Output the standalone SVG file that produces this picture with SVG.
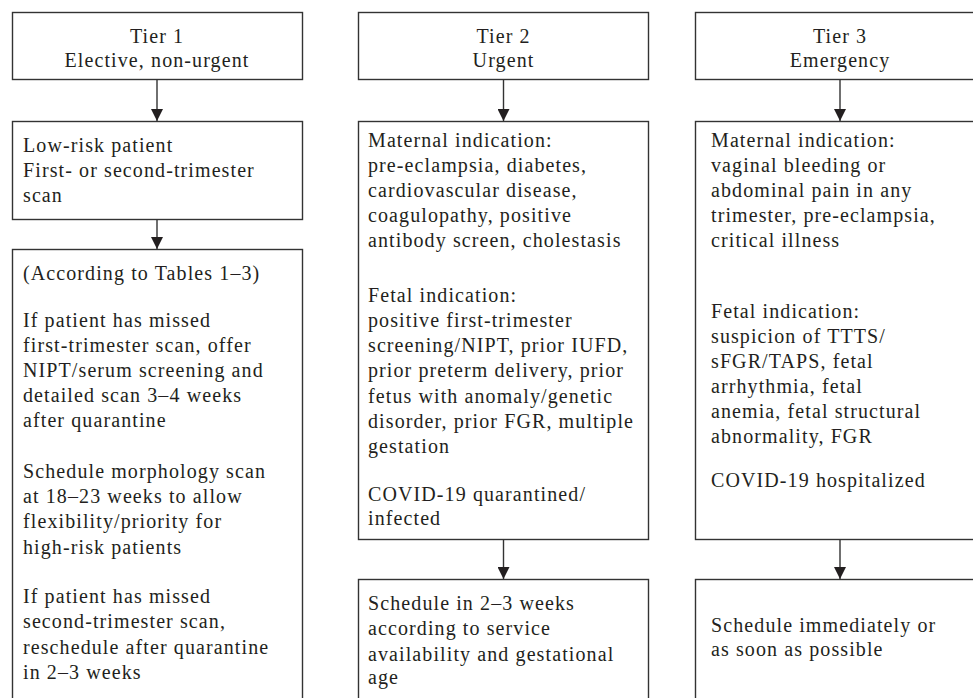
<svg xmlns="http://www.w3.org/2000/svg" width="973" height="698" viewBox="0 0 973 698">
<style>
.box{fill:#fff;stroke:#333;stroke-width:1.4}
.t{font-family:"Liberation Serif","Times New Roman",serif;font-size:20px;letter-spacing:1.1px;fill:#231f20}
.c{text-anchor:middle}
.conn{stroke:#333;stroke-width:1.4;fill:none;marker-end:url(#ah)}
</style>
<defs>
<marker id="ah" markerUnits="userSpaceOnUse" markerWidth="12" markerHeight="12" refX="12" refY="6" orient="auto">
<path d="M0,0 L12,6 L0,12 z" fill="#231f20"/>
</marker>
</defs>
<rect width="973" height="698" fill="#fff"/>

<g id="connectors">
<line class="conn" x1="157" y1="80" x2="157" y2="121"/>
<line class="conn" x1="157" y1="220" x2="157" y2="249"/>
<line class="conn" x1="503.5" y1="80" x2="503.5" y2="121"/>
<line class="conn" x1="503.5" y1="540" x2="503.5" y2="579"/>
<line class="conn" x1="840" y1="80" x2="840" y2="121"/>
<line class="conn" x1="840" y1="540" x2="840" y2="579"/>
</g>

<g id="tier1">
<rect class="box" x="12.5" y="12.5" width="290" height="67"/>
<text class="t c" x="157" y="43">Tier 1</text>
<text class="t c" x="157" y="67">Elective, non-urgent</text>
</g>

<g id="tier1-patient">
<rect class="box" x="12.5" y="121.5" width="290" height="98"/>
<text class="t" x="23" y="152">Low-risk patient</text>
<text class="t" x="23" y="177">First- or second-trimester</text>
<text class="t" x="23" y="202">scan</text>
</g>

<g id="tier1-plan">
<rect class="box" x="12.5" y="249.5" width="290" height="470"/>
<text class="t" x="23" y="280">(According to Tables 1–3)</text>
<text class="t" x="23" y="327">If patient has missed</text>
<text class="t" x="23" y="352">first-trimester scan, offer</text>
<text class="t" x="23" y="377">NIPT/serum screening and</text>
<text class="t" x="23" y="402">detailed scan 3–4 weeks</text>
<text class="t" x="23" y="427">after quarantine</text>
<text class="t" x="23" y="478">Schedule morphology scan</text>
<text class="t" x="23" y="503">at 18–23 weeks to allow</text>
<text class="t" x="23" y="528">flexibility/priority for</text>
<text class="t" x="23" y="554">high-risk patients</text>
<text class="t" x="23" y="603">If patient has missed</text>
<text class="t" x="23" y="628">second-trimester scan,</text>
<text class="t" x="23" y="654">reschedule after quarantine</text>
<text class="t" x="23" y="679">in 2–3 weeks</text>
</g>

<g id="tier2">
<rect class="box" x="358.5" y="12.5" width="290" height="67"/>
<text class="t c" x="503.5" y="43">Tier 2</text>
<text class="t c" x="503.5" y="67">Urgent</text>
</g>

<g id="tier2-indications">
<rect class="box" x="358.5" y="121.5" width="290" height="418"/>
<text class="t" x="368" y="147">Maternal indication:</text>
<text class="t" x="368" y="172">pre-eclampsia, diabetes,</text>
<text class="t" x="368" y="197">cardiovascular disease,</text>
<text class="t" x="368" y="222">coagulopathy, positive</text>
<text class="t" x="368" y="247">antibody screen, cholestasis</text>
<text class="t" x="368" y="302">Fetal indication:</text>
<text class="t" x="368" y="327">positive first-trimester</text>
<text class="t" x="368" y="352">screening/NIPT, prior IUFD,</text>
<text class="t" x="368" y="377">prior preterm delivery, prior</text>
<text class="t" x="368" y="403">fetus with anomaly/genetic</text>
<text class="t" x="368" y="428">disorder, prior FGR, multiple</text>
<text class="t" x="368" y="453">gestation</text>
<text class="t" x="368" y="501">COVID-19 quarantined/</text>
<text class="t" x="368" y="525">infected</text>
</g>

<g id="tier2-schedule">
<rect class="box" x="358.5" y="579.5" width="290" height="140"/>
<text class="t" x="368" y="610">Schedule in 2–3 weeks</text>
<text class="t" x="368" y="635">according to service</text>
<text class="t" x="368" y="661">availability and gestational</text>
<text class="t" x="368" y="684">age</text>
</g>

<g id="tier3">
<rect class="box" x="695.5" y="12.5" width="290" height="67"/>
<text class="t c" x="840" y="43">Tier 3</text>
<text class="t c" x="840" y="67">Emergency</text>
</g>

<g id="tier3-indications">
<rect class="box" x="695.5" y="121.5" width="290" height="418"/>
<text class="t" x="711" y="147">Maternal indication:</text>
<text class="t" x="711" y="172">vaginal bleeding or</text>
<text class="t" x="711" y="197">abdominal pain in any</text>
<text class="t" x="711" y="222">trimester, pre-eclampsia,</text>
<text class="t" x="711" y="247">critical illness</text>
<text class="t" x="711" y="318">Fetal indication:</text>
<text class="t" x="711" y="343">suspicion of TTTS/</text>
<text class="t" x="711" y="368">sFGR/TAPS, fetal</text>
<text class="t" x="711" y="393">arrhythmia, fetal</text>
<text class="t" x="711" y="418">anemia, fetal structural</text>
<text class="t" x="711" y="443">abnormality, FGR</text>
<text class="t" x="711" y="487">COVID-19 hospitalized</text>
</g>

<g id="tier3-schedule">
<rect class="box" x="695.5" y="579.5" width="290" height="140"/>
<text class="t" x="711" y="632">Schedule immediately or</text>
<text class="t" x="711" y="656">as soon as possible</text>
</g>
</svg>
